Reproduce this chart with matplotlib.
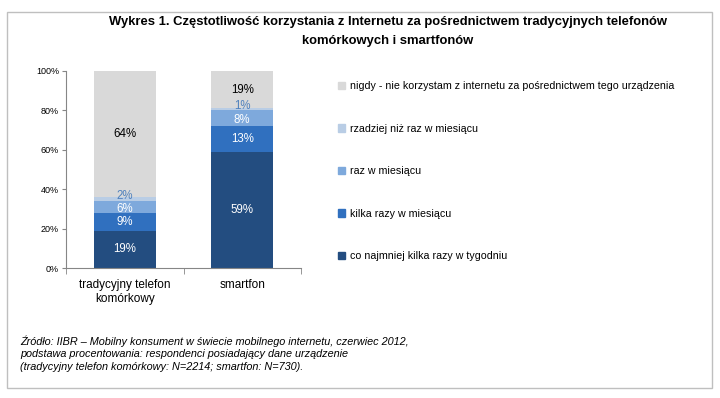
import matplotlib
matplotlib.use("Agg")
import matplotlib.pyplot as plt
from matplotlib.patches import Rectangle, Patch
import numpy as np

plt.rcParams['font.family'] = ['Liberation Sans', 'DejaVu Sans']

categories = ["tradycyjny telefon\nkomórkowy", "smartfon"]
series_names = [
    "co najmniej kilka razy w tygodniu",
    "kilka razy w miesiącu",
    "raz w miesiącu",
    "rzadziej niż raz w miesiącu",
    "nigdy - nie korzystam z internetu za pośrednictwem tego urządzenia",
]
values_traditional = [19, 9, 6, 2, 64]
values_smartphone = [59, 13, 8, 1, 19]
yticks = [0, 20, 40, 60, 80, 100]
ytick_labels = ["0%", "20%", "40%", "60%", "80%", "100%"]

colors = ["#234D80", "#3070BF", "#7EA9DC", "#B9CDE5", "#D9D9D9"]
label_colors = ["white", "white", "white", "#4F81BD", "black"]
label_offsets = [0, 0, -0.8, 1.8, 0]  # small nudges (data units) to separate thin-segment labels

W, H = 720, 398
fig = plt.figure(figsize=(W / 100, H / 100), dpi=100)

# outer frame
fig.patches.append(Rectangle((7 / W, 1 - 388 / H), (712 - 7) / W, (388 - 12) / H,
                             transform=fig.transFigure, fill=False,
                             edgecolor="#BFBFBF", linewidth=1.0))

ax = fig.add_axes([66 / W, 1 - 268 / H, (301 - 66) / W, (268 - 71) / H])

data = np.array([values_traditional, values_smartphone]).T
x = np.arange(len(categories))
bottom = np.zeros(len(categories))
handles = []
for i, name in enumerate(series_names):
    bars = ax.bar(x, data[i], bottom=bottom, width=0.53, color=colors[i], label=name)
    for j, b in enumerate(bars):
        v = data[i][j]
        ax.text(b.get_x() + b.get_width() / 2, bottom[j] + v / 2 + label_offsets[i], f"{v}%",
                ha="center", va="center", fontsize=8.3, color=label_colors[i])
    handles.append(Patch(color=colors[i], label=name))
    bottom += data[i]

ax.set_xlim(-0.5, 1.5)
ax.set_ylim(0, 100)
ax.set_yticks(yticks)
ax.set_yticklabels(ytick_labels, fontsize=6.5)
ax.set_xticks(x)
ax.set_xticklabels(categories, fontsize=8.5, linespacing=1.25)
ax.tick_params(axis="x", length=0, pad=8)
ax.set_xticks([-0.5, 0.5, 1.5], minor=True)
ax.tick_params(axis="x", which="minor", length=4, color="#868686")
ax.tick_params(axis="y", length=3, color="#868686", pad=2)
for s in ["top", "right"]:
    ax.spines[s].set_visible(False)
ax.spines["left"].set_color("#868686")
ax.spines["bottom"].set_color("#868686")

leg = fig.legend(handles[::-1], [h.get_label() for h in handles[::-1]],
                 loc="upper left", bbox_to_anchor=(338 / W, 1 - 81 / H),
                 frameon=False, handlelength=0.7, handleheight=0.7,
                 handletextpad=0.4, labelspacing=3.05, borderaxespad=0, borderpad=0,
                 prop={'size': 7.7})

fig.text(388 / W, 1 - 22 / H, "Wykres 1. Częstotliwość korzystania z Internetu za pośrednictwem tradycyjnych telefonów",
         ha="center", va="center", fontsize=9.4, fontweight="bold")
fig.text(388 / W, 1 - 41 / H, "komórkowych i smartfonów",
         ha="center", va="center", fontsize=9.4, fontweight="bold")

foot = ["Źródło: IIBR – Mobilny konsument w świecie mobilnego internetu, czerwiec 2012,",
        "podstawa procentowania: respondenci posiadający dane urządzenie",
        "(tradycyjny telefon komórkowy: N=2214; smartfon: N=730)."]
for k, line in enumerate(foot):
    fig.text(20 / W, 1 - (341 + 13 * k) / H, line, ha="left", va="center",
             fontsize=7.8, style="italic")

fig.savefig("out.png", dpi=100)
